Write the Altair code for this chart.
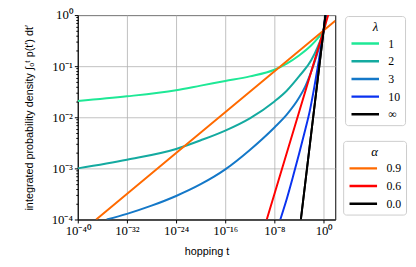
import altair as alt
import pandas as pd

# ---- values (log10 t, log10 of integrated density) ----
lam_names = ["1", "2", "3", "10", "∞"]
lam_colors = ["#1ee896", "#14aaa0", "#1478c8", "#0a32f0", "#000000"]

lam1_logt = [-40, -32, -24, -20, -16, -12, -8, -6, -4, -2, -1, 0, 0.15, 0.28, 0.301]
lam1_logy = [-1.68, -1.59, -1.47, -1.38, -1.29, -1.20, -1.07, -0.95, -0.79, -0.59, -0.46, -0.30, -0.26, -0.19, 0.0]

lam2_logt = [-40, -32, -24, -20, -16, -12, -8, -6, -4, -2, -1, 0, 0.15, 0.28, 0.301]
lam2_logy = [-3.00, -2.83, -2.62, -2.45, -2.26, -2.02, -1.69, -1.48, -1.20, -0.88, -0.63, -0.30, -0.22, -0.08, 0.0]

lam3_logt = [-35.3, -32, -28, -24, -20, -16, -12, -8, -6, -4, -3, -2, -1, 0, 0.15, 0.28, 0.301]
lam3_logy = [-4.00, -3.89, -3.73, -3.54, -3.31, -3.02, -2.64, -2.20, -1.95, -1.62, -1.40, -1.10, -0.74, -0.30, -0.19, -0.03, 0.0]

lam10_logt = [-7.04, -6, -5, -4, -3, -2.24, -1.5, -1, -0.5, 0, 0.15, 0.301]
lam10_logy = [-4.00, -3.60, -3.17, -2.72, -2.25, -1.87, -1.40, -1.05, -0.68, -0.30, -0.15, 0.0]

laminf_logt = [-3.7, 0, 0.301]
laminf_logy = [-4.0, -0.30, 0.0]

alpha_names = ["0.9", "0.6", "0.0"]
alpha_colors = ["#ff6a00", "#ff0000", "#000000"]

a09_logt = [-37, -24, 0, 1.9]
a09_logy = [-4.0, -2.7, -0.30, -0.11]

a06_logt = [-9.25, -4, 0, 0.75]
a06_logy = [-4.0, -1.9, -0.30, 0.0]

a00_logt = [-3.7, 0, 0.301]
a00_logy = [-4.0, -0.30, 0.0]

x_ticks = [1e-40, 1e-32, 1e-24, 1e-16, 1e-8, 1e0]
y_major = [1e-4, 1e-3, 1e-2, 1e-1, 1e0]
y_minor_mult = [2, 3, 4, 5, 6, 7, 8, 9]


def frame(name, logt, logy):
    return pd.DataFrame({
        "t": [10.0 ** v for v in logt],
        "y": [10.0 ** v for v in logy],
        "series": name,
        "ord": list(range(len(logt))),
    })


lam_df = pd.concat([
    frame("1", lam1_logt, lam1_logy),
    frame("2", lam2_logt, lam2_logy),
    frame("3", lam3_logt, lam3_logy),
    frame("10", lam10_logt, lam10_logy),
    frame("∞", laminf_logt, laminf_logy),
], ignore_index=True)

alpha_df = pd.concat([
    frame("0.9", a09_logt, a09_logy),
    frame("0.6", a06_logt, a06_logy),
    frame("0.0", a00_logt, a00_logy),
], ignore_index=True)

y_ticks = list(y_major)
for d in y_major[:-1]:
    for k in y_minor_mult:
        y_ticks.append(k * d)

is_decade = "abs(log(datum.value)/LN10 - round(log(datum.value)/LN10)) < 0.001"
sup_map = [("-", "⁻"), ("0", "⁰"), ("1", "¹"), ("2", "²"), ("3", "³"), ("4", "⁴"),
           ("5", "⁵"), ("6", "⁶"), ("7", "⁷"), ("8", "⁸"), ("9", "⁹")]
exp_expr = "('' + round(log(datum.value)/LN10))"
for a, b in sup_map:
    exp_expr = f"replace({exp_expr}, regexp('{a}', 'g'), '{b}')"
label_expr = f"({is_decade}) ? '10' + {exp_expr} : ''"

SERIF = "Liberation Serif"
SANS = "Liberation Sans"

x_scale = alt.Scale(type="log", domain=[1e-40, 79], nice=False)
y_scale = alt.Scale(type="log", domain=[1e-4, 1], nice=False)

x_axis = alt.Axis(
    values=x_ticks, labelExpr=label_expr, title="hopping t",
    grid=True, gridColor="#b0b0b0", gridWidth=0.8,
    domainColor="black", tickColor="black", tickSize=3.5, labelPadding=2,
    labelFont=SERIF, labelFontSize=13, labelColor="black", labelFlush=False,
    labelOverlap=False, titleFont=SANS, titleFontSize=11, titleFontWeight="normal",
    titleColor="black", titlePadding=8,
)
y_axis = alt.Axis(
    values=y_ticks, labelExpr=label_expr,
    title="integrated probability density ∫₀ᵗ p(t′) dt′",
    grid=True, gridColor="#b0b0b0", gridWidth=0.8,
    gridOpacity={"condition": {"test": is_decade, "value": 1}, "value": 0},
    tickSize={"condition": {"test": is_decade, "value": 3.5}, "value": 2},
    domainColor="black", tickColor="black", labelPadding=2,
    labelFont=SERIF, labelFontSize=13, labelColor="black", labelFlush=False,
    labelOverlap=False, titleFont=SANS, titleFontSize=11, titleFontWeight="normal",
    titleColor="black", titlePadding=17,
)

leg = dict(
    orient="none", symbolType="stroke", symbolSize=784, symbolStrokeWidth=2.5,
    clipHeight=12, rowPadding=6, labelOffset=8,
    labelFont=SERIF, labelFontSize=12, labelColor="black",
    titleFont=SERIF, titleFontStyle="italic", titleFontWeight="normal",
    titleFontSize=13, titleColor="black", titleAnchor="middle", titleAlign="center",
    titlePadding=4,
    strokeColor="#cccccc", fillColor="white", cornerRadius=3, padding=5,
)

lam_chart = alt.Chart(lam_df).mark_line(strokeWidth=2, clip=True, interpolate="monotone").encode(
    x=alt.X("t:Q", scale=x_scale, axis=x_axis),
    y=alt.Y("y:Q", scale=y_scale, axis=y_axis),
    color=alt.Color("series:N",
                    scale=alt.Scale(domain=lam_names, range=lam_colors),
                    legend=alt.Legend(title="λ", legendX=272, legendY=1, **leg)),
    order="ord:Q",
)

alpha_chart = alt.Chart(alpha_df).mark_line(strokeWidth=2, clip=True).encode(
    x=alt.X("t:Q", scale=x_scale, axis=x_axis),
    y=alt.Y("y:Q", scale=y_scale, axis=y_axis),
    color=alt.Color("series:N",
                    scale=alt.Scale(domain=alpha_names, range=alpha_colors),
                    legend=alt.Legend(title="α", legendX=270, legendY=128, **leg)),
    order="ord:Q",
)

chart = alt.layer(lam_chart, alpha_chart).resolve_scale(color="independent").properties(
    width=262, height=208,
    autosize=alt.AutoSizeParams(type="none"),
    padding={"left": 71, "top": 5, "right": 74, "bottom": 38},
).configure_view(stroke="black", strokeWidth=1)

chart.save("out.html", embed_options={"renderer": "svg", "actions": False})
